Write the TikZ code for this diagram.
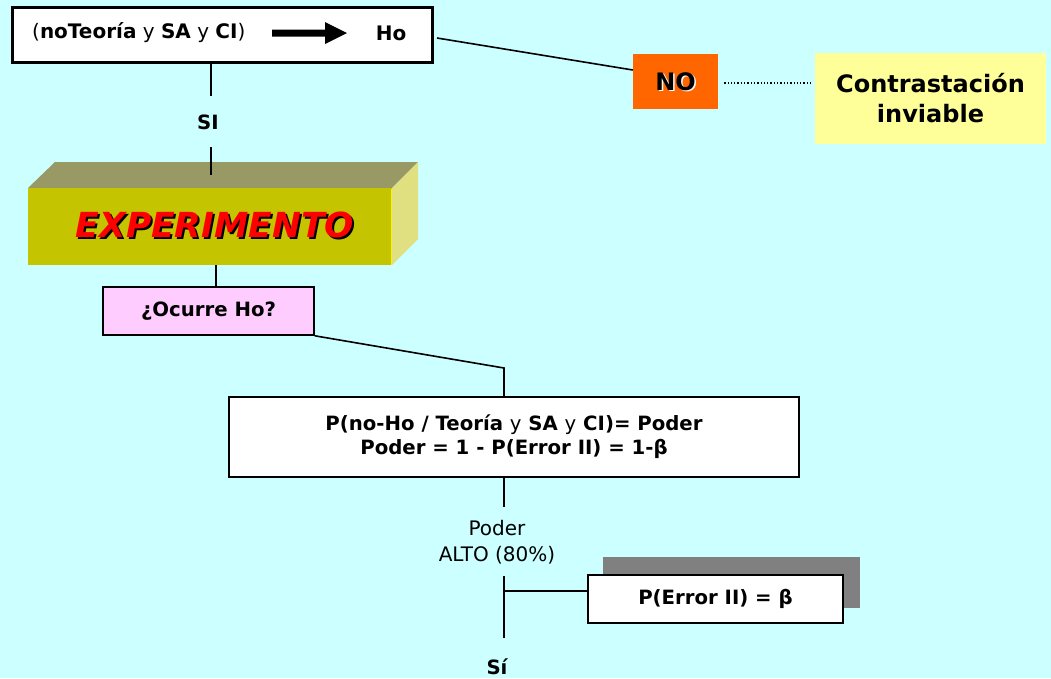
\documentclass[tikz,border=0pt]{standalone}
\usepackage{fontspec}
\setmainfont{DejaVu Sans}
\definecolor{bgcyan}{HTML}{CCFFFF}
\definecolor{noorange}{HTML}{FF6600}
\definecolor{paleyellow}{HTML}{FFFF99}
\definecolor{pinkbox}{HTML}{FFCCFF}
\definecolor{exfront}{HTML}{C4C400}
\definecolor{extop}{HTML}{999966}
\definecolor{exside}{HTML}{E0E080}
\definecolor{shadowgray}{HTML}{808080}
\begin{document}
\begin{tikzpicture}[x=1pt,y=-1pt,
  box/.style={rectangle, draw=black, line width=1.6pt, inner sep=0pt, align=center},
  bodytxt/.style={font=\fontsize{20}{26}\selectfont},
  boldtxt/.style={font=\fontsize{19.7}{24}\selectfont\bfseries},
  bigtxt/.style={font=\fontsize{24}{30}\selectfont\bfseries},
  conn/.style={line width=1.6pt}]
\fill[bgcyan] (0,0) rectangle (1051,678);
\useasboundingbox (0,0) rectangle (1051,678);

% top box
\node[box, line width=3pt, fill=white, minimum width=420pt, minimum height=55pt] (top) at (222.5,35) {};
\node[bodytxt, anchor=west, inner sep=0pt] (cond) at (32,33) {(\textbf{noTeoría} y \textbf{SA} y \textbf{CI})};
\node[font=\fontsize{20}{26}\selectfont\bfseries, inner sep=0pt] (ho) at (391,33) {Ho};
\fill[black] (272,29.5) -- (325,29.5) -- (325,22) -- (347,33) -- (325,44) -- (325,36.5) -- (272,36.5) -- cycle;

% NO box and contrastacion
\node[rectangle, fill=noorange, minimum width=85pt, minimum height=55pt, inner sep=0pt] (no) at (675.5,81.5) {};
\node[bigtxt, text=white, inner sep=0pt] (noglow) at (677,83) {NO};
\node[bigtxt, inner sep=0pt] (notxt) at (675.5,81.5) {NO};
\node[rectangle, fill=paleyellow, minimum width=231pt, minimum height=91pt, inner sep=0pt, bigtxt, align=center] (inv) at (930.5,98.5) {Contrastación\\inviable};

\coordinate (topout) at (437,38);
\draw[conn] (topout) -- (no.west |- 0,70);
\draw[line width=1.3pt, dotted] ([xshift=6pt]no.east |- 0,83) -- ([xshift=-2pt]inv.west |- 0,83);

% SI
\node[boldtxt, minimum height=50pt, inner sep=0pt] (si) at (208,122) {SI};
\coordinate (sitop) at (211,63);
\coordinate (siend) at (211,175);
\draw[conn] (sitop) -- (211,96);
\draw[conn] (211,147) -- (siend);

% EXPERIMENTO 3D box
\fill[extop] (28,188) -- (55,162) -- (418,162) -- (392,188) -- cycle;
\fill[exside] (392,188) -- (418,162) -- (418,239) -- (392,265) -- cycle;
\node[rectangle, fill=exfront, minimum width=364pt, minimum height=77pt, inner sep=0pt] (exp) at (210,226.5) {};
\draw[yellow, line width=1.5pt] (391.5,189) -- (391.5,265);
\draw[conn] (211,162) -- (siend);
\node[font=\fontsize{34.5}{40}\selectfont\bfseries\itshape, text=black, inner sep=0pt] (expsh) at (217,227) {EXPERIMENTO};
\node[font=\fontsize{34.5}{40}\selectfont\bfseries\itshape, text=red, inner sep=0pt] (exptxt) at (215,225) {EXPERIMENTO};

% Ocurre Ho
\node[box, fill=pinkbox, minimum width=211pt, minimum height=48pt, boldtxt] (ocu) at (208.5,311) {¿Ocurre Ho?};
\draw[conn] (exp.south -| 216,0) -- (ocu.north -| 216,0);

% big box
\node[box, fill=white, minimum width=570pt, minimum height=80pt, boldtxt] (pod) at (514,437)
  {P(no-Ho / Teoría \textmd{y} SA \textmd{y} CI)= Poder\\Poder = 1 - P(Error II) = 1-β};
\draw[conn] (ocu.south east) -- (504,368) -- (pod.north -| 504,0);

% Poder ALTO
\node[bodytxt, align=center, minimum height=69pt, inner sep=0pt] (alto) at (497,542) {Poder\\ALTO (80\%)};
\draw[conn] (pod.south -| 504,0) -- (504,507);
\coordinate (branch) at (504,591);
\coordinate (sibot) at (504,638);
\draw[conn] (504,576) -- (sibot);

% Error box with shadow
\fill[shadowgray] (603,557) rectangle (860,608);
\node[box, fill=white, minimum width=255pt, minimum height=48pt, boldtxt] (err) at (715.5,599) {P(Error II) = β};
\draw[conn] (branch) -- (err.west |- branch);

\node[boldtxt, inner sep=0pt] (sifinal) at (497,667) {Sí};
\end{tikzpicture}
\end{document}
